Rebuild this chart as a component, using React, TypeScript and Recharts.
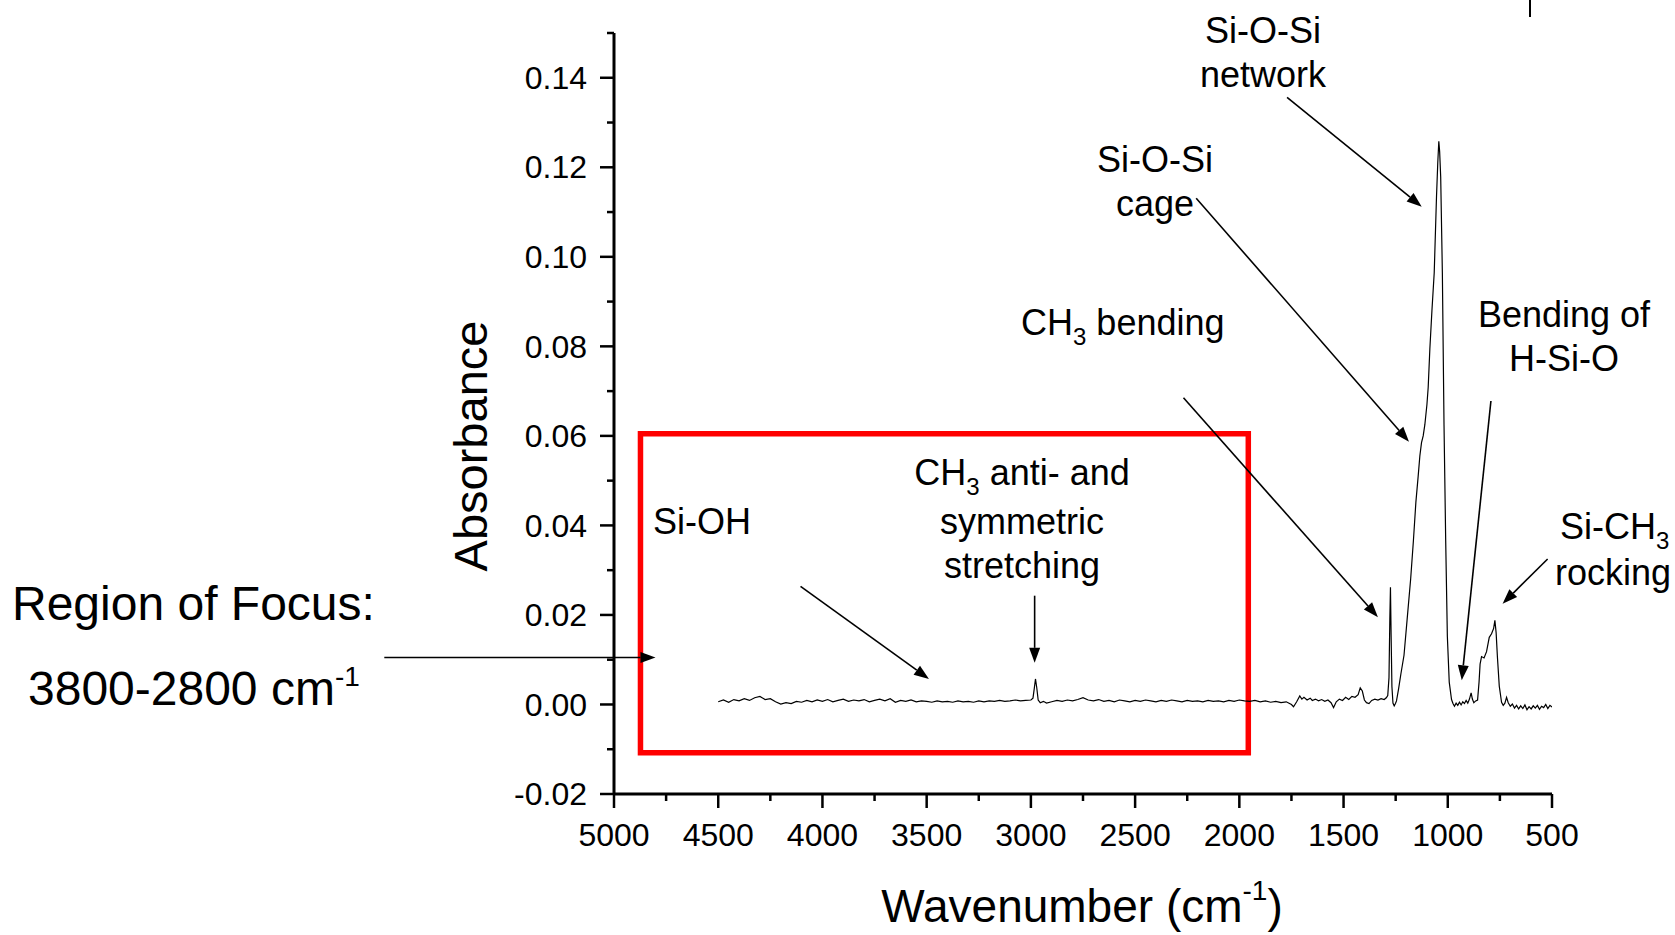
import React from "react";
import {
  LineChart,
  Line,
  XAxis,
  YAxis,
  ReferenceArea,
  ReferenceLine,
} from "recharts";

// FTIR spectrum (wavenumber in cm-1, absorbance)
const wavenumbers = [
  4500, 4475, 4450, 4425, 4400, 4375, 4350, 4325, 4300, 4275,
  4250, 4225, 4200, 4175, 4150, 4125, 4100, 4075, 4050, 4025,
  4000, 3975, 3950, 3925, 3900, 3875, 3850, 3825, 3800, 3775,
  3750, 3725, 3700, 3675, 3650, 3625, 3600, 3575, 3550, 3525,
  3500, 3475, 3450, 3425, 3400, 3375, 3350, 3325, 3300, 3275,
  3250, 3225, 3200, 3175, 3150, 3125, 3100, 3075, 3050, 3025,
  3000, 2990, 2984, 2978, 2972, 2965, 2955, 2940, 2925, 2900,
  2875, 2850, 2825, 2800, 2775, 2750, 2725, 2700, 2675, 2650,
  2625, 2600, 2575, 2550, 2525, 2500, 2475, 2450, 2425, 2400,
  2375, 2350, 2325, 2300, 2275, 2250, 2225, 2200, 2175, 2150,
  2125, 2100, 2075, 2050, 2025, 2000, 1975, 1950, 1925, 1900,
  1875, 1850, 1825, 1800, 1775, 1750, 1740, 1725, 1710, 1700,
  1690, 1675, 1660, 1650, 1635, 1620, 1605, 1590, 1575, 1560,
  1548, 1535, 1520, 1505, 1490, 1475, 1460, 1445, 1430, 1420,
  1410, 1400, 1390, 1378, 1365, 1350, 1335, 1320, 1305, 1295,
  1288, 1282, 1278, 1275, 1272, 1268, 1263, 1257, 1251, 1246,
  1236, 1225, 1210, 1195, 1178, 1165, 1153, 1142, 1134, 1126,
  1118, 1110, 1100, 1094, 1086, 1076, 1065, 1054, 1048, 1043,
  1039, 1034, 1026, 1018, 1010, 1002, 993, 982, 975, 968,
  960, 952, 944, 936, 928, 920, 912, 904, 896, 888,
  882, 875, 866, 857, 850, 845, 838, 826, 814, 801,
  790, 780, 774, 768, 762, 753, 742, 734, 726, 718,
  710, 700, 690, 680, 670, 660, 650, 640, 630, 620,
  610, 600, 590, 580, 570, 560, 550, 540, 530, 520,
  510, 500,
];

const absorbance = [
  0.0006, 0.001, 0.0005, 0.0011, 0.0008, 0.0013, 0.0009, 0.0015, 0.0018, 0.0011,
  0.0013, 0.0006, 0.0001, 0.0004, 0.0002, 0.0007, 0.0005, 0.0009, 0.0006, 0.001,
  0.0007, 0.0011, 0.0006, 0.0009, 0.0012, 0.0007, 0.001, 0.0008, 0.0011, 0.0006,
  0.0009, 0.0012, 0.0008, 0.0013, 0.0005, 0.0009, 0.0007, 0.001, 0.0006, 0.0008,
  0.0007, 0.0005, 0.0008, 0.0006, 0.0007, 0.0005, 0.0008, 0.0006, 0.0007, 0.0005,
  0.0008, 0.0006, 0.0008, 0.0007, 0.0009, 0.0007, 0.0008, 0.001, 0.0008, 0.0009,
  0.001, 0.0014, 0.0035, 0.0057, 0.0038, 0.001, 0.0004, 0.0007, 0.0003, 0.0006,
  0.0009, 0.0007, 0.001, 0.0008, 0.0011, 0.0015, 0.001, 0.0008, 0.0011, 0.0007,
  0.0009, 0.0006, 0.001, 0.0008, 0.0006, 0.0009, 0.0007, 0.001, 0.0008, 0.0006,
  0.0009, 0.0007, 0.001, 0.0008, 0.0006, 0.0009, 0.0007, 0.0008, 0.0006, 0.0009,
  0.0007, 0.0008, 0.0006, 0.0009, 0.0007, 0.001, 0.0008, 0.0007, 0.0009, 0.0006,
  0.0008, 0.0005, 0.0007, 0.0004, 0.0006, 0.0, -0.0005, 0.0006, 0.0019, 0.0012,
  0.0016, 0.001, 0.0014, 0.0009, 0.0012, 0.0008, 0.0011, 0.0007, 0.001, 0.0004,
  -0.0007, 0.0006, 0.0012, 0.0009, 0.0016, 0.0011, 0.0018, 0.0016, 0.0022, 0.0037,
  0.003, 0.001, 0.0004, 0.0002, 0.0009, 0.0012, 0.001, 0.0013, 0.0011, 0.0015,
  0.002, 0.006, 0.019, 0.0262, 0.016, 0.004, 0.0003, -0.0003, 0.0002, 0.0008,
  0.0035, 0.0068, 0.011, 0.019, 0.0281, 0.0365, 0.0452, 0.051, 0.0555, 0.0585,
  0.06, 0.0625, 0.067, 0.0708, 0.0794, 0.088, 0.0965, 0.1136, 0.121, 0.1258,
  0.1235, 0.1179, 0.0965, 0.0623, 0.0366, 0.0152, 0.005, 0.0011, 0.0002, -0.0004,
  0.0003, -0.0002, 0.0005, -0.0001, 0.0006, 0.0002, 0.0009, 0.0003, 0.0012, 0.0026,
  0.0012, 0.0004, 0.0008, 0.001, 0.005, 0.009, 0.0107, 0.0104, 0.0118, 0.015,
  0.0158, 0.017, 0.0188, 0.016, 0.0107, 0.0041, 0.0005, -0.0002, 0.0003, 0.0016,
  0.0004, -0.0004, 0.0001, -0.0008, -0.0002, -0.001, -0.0003, -0.0009, -0.0001, -0.0012,
  -0.0005, -0.001, -0.0003, -0.0008, -0.0002, -0.0011, -0.0004, -0.0007, 0.0, -0.0009,
  -0.0002, -0.0006,
];

const xTicks = [
  5000, 4750, 4500, 4250, 4000, 3750, 3500, 3250, 3000, 2750,
  2500, 2250, 2000, 1750, 1500, 1250, 1000, 750, 500,
];
const yTicks = [
  -0.02, -0.01, 0, 0.01, 0.02, 0.03, 0.04, 0.05, 0.06, 0.07,
  0.08, 0.09, 0.1, 0.11, 0.12, 0.13, 0.14, 0.15,
];

// annotation arrows, tail -> head, in data units
const arrows = [
  { id: "focus", from: [6102, 0.0105], to: [4801, 0.0105] },
  { id: "sioh", from: [4105, 0.0264], to: [3489, 0.0057] },
  { id: "ch3str", from: [2982, 0.0243], to: [2982, 0.0093] },
  { id: "ch3bend", from: [2268, 0.0685], to: [1335, 0.0195] },
  { id: "cage", from: [2207, 0.1131], to: [1186, 0.0587] },
  { id: "network", from: [1771, 0.1356], to: [1125, 0.1112] },
  { id: "hsio", from: [793, 0.0678], to: [933, 0.0054] },
  { id: "sich3", from: [521, 0.0325], to: [737, 0.0225] },
];

// region of focus box
const focusBox = { x1: 4873, x2: 1957, y1: -0.0108, y2: 0.0605 };

const data = wavenumbers.map((wn, i) => ({ wn, abs: absorbance[i] }));

const FONT = "'Liberation Sans', Arial, Helvetica, sans-serif";

const Arrow = (props: any) => {
  const { x1, y1, x2, y2 } = props;
  const dx = x2 - x1;
  const dy = y2 - y1;
  const len = Math.hypot(dx, dy) || 1;
  const ux = dx / len;
  const uy = dy / len;
  const hl = 15;
  const hw = 5.5;
  const bx = x2 - ux * hl;
  const by = y2 - uy * hl;
  return (
    <g>
      <line x1={x1} y1={y1} x2={bx} y2={by} stroke="#000" strokeWidth={1.6} />
      <polygon
        points={`${x2},${y2} ${bx - uy * hw},${by + ux * hw} ${bx + uy * hw},${by - ux * hw}`}
        fill="#000"
      />
    </g>
  );
};

const XTick = (props: any) => {
  const { x, y, payload } = props;
  const v = payload.value;
  const major = v % 500 === 0;
  return (
    <g>
      <line x1={x} x2={x} y1={y} y2={y + (major ? 14 : 7)} stroke="#000" strokeWidth={2.5} />
      {major && (
        <text x={x} y={y + 52} textAnchor="middle" fontFamily={FONT} fontSize={32} fill="#000">
          {v}
        </text>
      )}
    </g>
  );
};

const YTick = (props: any) => {
  const { x, y, payload } = props;
  const v = payload.value;
  const major = Math.round(v * 100) % 2 === 0;
  return (
    <g>
      <line x1={x} x2={x - (major ? 14 : 7)} y1={y} y2={y} stroke="#000" strokeWidth={2.5} />
      {major && (
        <text x={x - 27} y={y} dy="0.35em" textAnchor="end" fontFamily={FONT} fontSize={32} fill="#000">
          {v.toFixed(2)}
        </text>
      )}
    </g>
  );
};

export default function App() {
  return (
    <div style={{ position: "absolute", left: 0, top: 0, width: 1675, height: 935, background: "#fff" }}>
      <LineChart
        width={1675}
        height={935}
        data={data}
        margin={{ top: 33, right: 123, bottom: 81, left: 514 }}
      >
        <XAxis
          dataKey="wn"
          type="number"
          domain={[500, 5000]}
          reversed
          ticks={xTicks}
          interval={0}
          height={60}
          tickSize={0}
          tickMargin={0}
          tickLine={false}
          axisLine={{ stroke: "#000", strokeWidth: 3 }}
          tick={(p: any) => <XTick {...p} />}
          allowDataOverflow
        />
        <YAxis
          type="number"
          domain={[-0.02, 0.15]}
          ticks={yTicks}
          interval={0}
          width={100}
          tickSize={0}
          tickMargin={0}
          tickLine={false}
          axisLine={{ stroke: "#000", strokeWidth: 3 }}
          tick={(p: any) => <YTick {...p} />}
          allowDataOverflow
        />
        <Line
          type="linear"
          dataKey="abs"
          stroke="#000"
          strokeWidth={1.2}
          dot={false}
          activeDot={false}
          isAnimationActive={false}
        />
        <ReferenceArea
          x1={focusBox.x1}
          x2={focusBox.x2}
          y1={focusBox.y1}
          y2={focusBox.y2}
          fill="none"
          stroke="#ff0000"
          strokeWidth={5.5}
          ifOverflow="visible"
        />
        {arrows.map((a) => (
          <ReferenceLine
            key={a.id}
            segment={[
              { x: a.from[0], y: a.from[1] },
              { x: a.to[0], y: a.to[1] },
            ]}
            ifOverflow="visible"
            shape={(p: any) => <Arrow {...p} />}
          />
        ))}
      </LineChart>

      <svg
        width={1675}
        height={935}
        style={{ position: "absolute", left: 0, top: 0, pointerEvents: "none" }}
        fontFamily={FONT}
        fill="#000"
      >
        {/* axis titles */}
        <text x={487} y={446} fontSize={47} textAnchor="middle" transform="rotate(-90 487 446)">
          Absorbance
        </text>
        <text x={1082} y={922} fontSize={46} textAnchor="middle">
          Wavenumber (cm<tspan fontSize={28} dy={-22}>-1</tspan>
          <tspan dy={22}>)</tspan>
        </text>

        {/* region of focus */}
        <text x={12} y={620} fontSize={48}>Region of Focus:</text>
        <text x={28} y={705} fontSize={48}>
          3800-2800 cm<tspan fontSize={28} dy={-19}>-1</tspan>
        </text>

        {/* peak labels */}
        <text x={1263} y={43} fontSize={36} textAnchor="middle">Si-O-Si</text>
        <text x={1263} y={87} fontSize={36} textAnchor="middle">network</text>

        <text x={1155} y={172} fontSize={36} textAnchor="middle">Si-O-Si</text>
        <text x={1155} y={216} fontSize={36} textAnchor="middle">cage</text>

        <text x={1021} y={335} fontSize={36}>
          CH<tspan fontSize={24} dy={10}>3</tspan>
          <tspan dy={-10}> bending</tspan>
        </text>

        <text x={1564} y={327} fontSize={36} textAnchor="middle">Bending of</text>
        <text x={1564} y={371} fontSize={36} textAnchor="middle">H-Si-O</text>

        <text x={1022} y={485} fontSize={36} textAnchor="middle">
          CH<tspan fontSize={24} dy={10}>3</tspan>
          <tspan dy={-10}> anti- and</tspan>
        </text>
        <text x={1022} y={534} fontSize={36} textAnchor="middle">symmetric</text>
        <text x={1022} y={578} fontSize={36} textAnchor="middle">stretching</text>

        <text x={653} y={534} fontSize={36}>Si-OH</text>

        <text x={1560} y={539} fontSize={36}>
          Si-CH<tspan fontSize={24} dy={10}>3</tspan>
        </text>
        <text x={1613} y={585} fontSize={36} textAnchor="middle">rocking</text>

        {/* stray mark at the top edge of the source figure */}
        <line x1={1530} y1={0} x2={1530} y2={17} stroke="#000" strokeWidth={2} />
      </svg>
    </div>
  );
}
